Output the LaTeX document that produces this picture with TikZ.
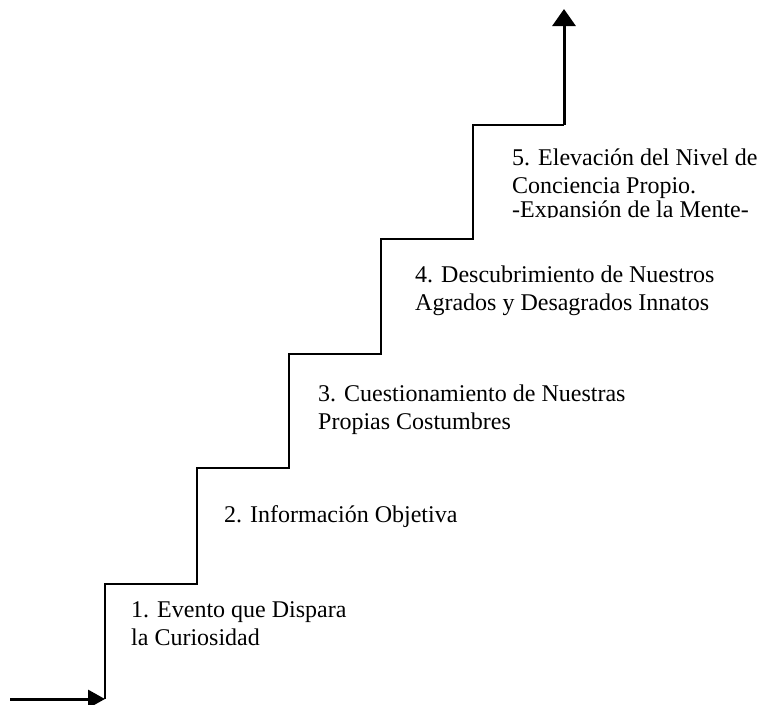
\documentclass[tikz,border=0pt]{standalone}
\usepackage{fontspec}
\setmainfont{Liberation Serif}
\usetikzlibrary{arrows.meta}
\begin{document}
\begin{tikzpicture}[x=1pt,y=-1pt,
  stair/.style={line width=2pt, line join=miter},
  uparrow/.style={line width=3pt, -{Triangle[length=17pt,width=23pt]}},
  inarrow/.style={line width=3pt, -{Triangle[length=17pt,width=18pt]}},
  steplabel/.style={anchor=base west, inner sep=0pt, font=\fontsize{24}{28}\selectfont}]
\useasboundingbox (0,0) rectangle (762,704);
% stair corners
\coordinate (s0) at (105,699);
\coordinate (s1) at (105,584);
\coordinate (s2) at (197,584);
\coordinate (s3) at (197,468);
\coordinate (s4) at (289,468);
\coordinate (s5) at (289,354);
\coordinate (s6) at (381,354);
\coordinate (s7) at (381,239);
\coordinate (s8) at (473,239);
\coordinate (s9) at (473,125);
\coordinate (s10) at (564,125);
\coordinate (top) at (564,9);
\coordinate (start) at (10,699);
% staircase
\draw[stair] (s0) -- (s1) -- (s2) -- (s3) -- (s4) -- (s5) -- (s6) -- (s7) -- (s8) -- (s9) -- (s10);
\draw[inarrow] (start) -- (s0);
\draw[uparrow] (s10) -- (top);
% labels
\node[steplabel] (t1) at (131,617) {\begin{tabular}[t]{@{}l@{}}1. Evento que Dispara\\la Curiosidad\end{tabular}};
\node[steplabel] (t2) at (224,522) {2. Información Objetiva};
\node[steplabel] (t3) at (318,401) {\begin{tabular}[t]{@{}l@{}}3. Cuestionamiento de Nuestras\\Propias Costumbres\end{tabular}};
\node[steplabel] (t4) at (415,282) {\begin{tabular}[t]{@{}l@{}}4. Descubrimiento de Nuestros\\Agrados y Desagrados Innatos\end{tabular}};
\begin{scope}
\clip (490,130) rectangle (762,217);
\node[steplabel] (t5) at (512,165) {\begin{tabular}[t]{@{}l@{}}5. Elevación del Nivel de\\Conciencia Propio.\\[-4pt]-Expansión de la Mente-\end{tabular}};
\end{scope}
\end{tikzpicture}
\end{document}
